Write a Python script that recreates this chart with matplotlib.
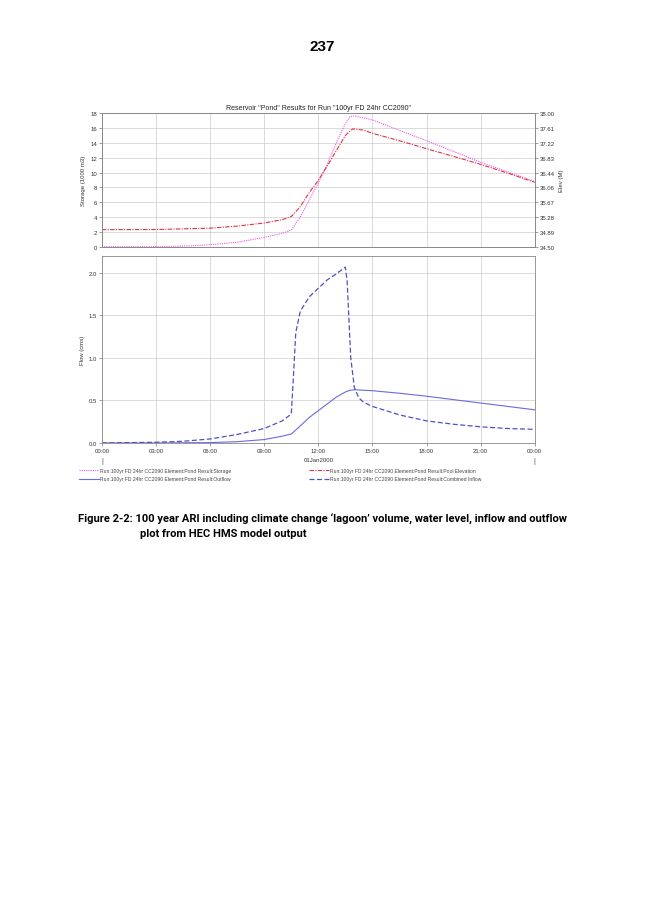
import numpy as np
import matplotlib
matplotlib.use("Agg")
import matplotlib.pyplot as plt
from matplotlib.lines import Line2D

# ---- data (hours from 01Jan2000 00:00) ----
stor_t = [0, 2, 3.5, 5, 6, 7.5, 9, 10, 10.5, 11, 11.5, 12, 12.5, 13, 13.5, 13.75, 14, 15, 16.5, 18, 19.5, 21, 22.5, 24]
stor_v = [0.0, 0.0, 0.02, 0.12, 0.27, 0.6, 1.25, 1.8, 2.25, 4.0, 6.3, 8.6, 11.2, 14.0, 16.6, 17.55, 17.65, 17.1, 15.7, 14.3, 12.85, 11.4, 10.1, 8.8]

elev_t = [0, 3, 6, 7.5, 9, 10, 10.5, 11, 11.5, 12, 12.5, 13, 13.5, 13.9, 14.5, 15, 16.5, 18, 19.5, 21, 22.5, 24]
elev_v = [34.947, 34.95, 34.986, 35.04, 35.122, 35.21, 35.29, 35.55, 35.92, 36.24, 36.62, 37.02, 37.42, 37.59, 37.56, 37.475, 37.28, 37.07, 36.87, 36.66, 36.43, 36.19]

out_t = [0, 3, 6, 7.5, 9, 10, 10.5, 11, 11.5, 12, 12.5, 13, 13.5, 13.75, 14, 15, 16.5, 18, 19.5, 21, 22.5, 24]
out_v = [0.0, 0.0, 0.004, 0.015, 0.04, 0.08, 0.105, 0.2, 0.3, 0.38, 0.46, 0.54, 0.6, 0.62, 0.626, 0.615, 0.585, 0.55, 0.51, 0.47, 0.43, 0.39]

inf_t = [0, 3, 4.5, 6, 7.5, 9, 10, 10.5, 10.6, 10.75, 11, 11.5, 12, 12.5, 13, 13.5, 13.6, 13.8, 14, 14.25, 14.5, 15, 16.5, 18, 19.5, 21, 22.5, 24]
inf_v = [0.0, 0.008, 0.02, 0.047, 0.1, 0.17, 0.26, 0.34, 0.7, 1.3, 1.55, 1.72, 1.82, 1.92, 1.99, 2.07, 1.9, 1.0, 0.65, 0.53, 0.48, 0.43, 0.33, 0.26, 0.22, 0.19, 0.17, 0.16]

xticks = [0, 3, 6, 9, 12, 15, 18, 21, 24]
xlabels = ['00:00', '03:00', '06:00', '09:00', '12:00', '15:00', '18:00', '21:00', '00:00']
stor_ticks = [0, 2, 4, 6, 8, 10, 12, 14, 16, 18]
elev_ticks = [34.50, 34.89, 35.28, 35.67, 36.06, 36.44, 36.83, 37.22, 37.61, 38.00]

run = 'Run:100yr FD 24hr CC2090 Element:Pond Result:'
c_stor = '#ee55ee'
c_elev = '#dd3344'
c_out = '#6a6ae0'
c_inf = '#5050c8'
tick_col = '#333333'
fs = 4.3

plt.rcParams['font.family'] = ['Liberation Sans', 'DejaVu Sans']

fig = plt.figure(figsize=(6.45, 9.12), dpi=100)

def style(ax):
    for s in ax.spines.values():
        s.set_color('#888888')
        s.set_linewidth(0.6)
    ax.grid(True, color='#cccccc', linewidth=0.5)
    ax.tick_params(labelsize=fs, colors='#777777', labelcolor=tick_col, length=2, width=0.5, pad=1.5)
    ax.set_xlim(0, 24)
    ax.set_xticks(xticks)

# ---- top panel: storage + elevation ----
ax1 = fig.add_axes([0.158, 0.7284, 0.671, 0.1463])
style(ax1)
ax1.set_ylim(0, 18)
ax1.set_yticks(stor_ticks)
ax1.set_xticklabels([])
ax1.tick_params(axis='x', length=0)
ax1.set_ylabel('Storage (1000 m3)', fontsize=fs, color=tick_col, labelpad=3)
ax1.set_title('Reservoir "Pond" Results for Run "100yr FD 24hr CC2090"', fontsize=5, color='#222222', pad=3)
ax1.plot(stor_t, stor_v, color=c_stor, linestyle=(0, (1, 1)), linewidth=0.8)

ax2 = ax1.twinx()
ax2.set_ylim(34.5, 38.0)
ax2.set_yticks(elev_ticks)
ax2.set_yticklabels(['%.2f' % v for v in elev_ticks])
for s in ax2.spines.values():
    s.set_color('#888888')
    s.set_linewidth(0.6)
ax2.tick_params(labelsize=fs, colors='#777777', labelcolor=tick_col, length=2, width=0.5, pad=1.5)
ax2.set_ylabel('Elev (M)', fontsize=fs, color=tick_col, labelpad=3)
ax2.plot(elev_t, elev_v, color=c_elev, linestyle=(0, (4, 1.2, 1, 1.2)), linewidth=0.8)

# ---- bottom panel: flows ----
ax3 = fig.add_axes([0.158, 0.5132, 0.671, 0.205])
style(ax3)
ax3.set_ylim(0, 2.2)
ax3.set_yticks([0.0, 0.5, 1.0, 1.5, 2.0])
ax3.set_yticklabels(['0.0', '0.5', '1.0', '1.5', '2.0'])
ax3.set_xticklabels(xlabels)
ax3.set_ylabel('Flow (cms)', fontsize=fs, color=tick_col, labelpad=3)
ax3.plot(out_t, out_v, color=c_out, linestyle='-', linewidth=0.8)
ax3.plot(inf_t, inf_v, color=c_inf, linestyle=(0, (4, 2)), linewidth=0.9)
ax3.text(12, -0.17, '01Jan2000', fontsize=fs, color=tick_col, ha='center', va='top',
         transform=ax3.transData, clip_on=False)
for xx in (0, 24):
    ax3.text(xx, -0.17, '|', fontsize=5, color='#555555', ha='center', va='top',
             transform=ax3.transData, clip_on=False)

handles = [
    Line2D([], [], color=c_stor, linestyle=(0, (1, 1)), linewidth=0.8),
    Line2D([], [], color=c_out, linestyle='-', linewidth=0.8),
    Line2D([], [], color=c_elev, linestyle=(0, (4, 1.2, 1, 1.2)), linewidth=0.8),
    Line2D([], [], color=c_inf, linestyle=(0, (4, 2)), linewidth=0.9),
]
labels = [run + 'Storage', run + 'Outflow', run + 'Pool Elevation', run + 'Combined Inflow']
leg = fig.legend(handles, labels, loc='upper left', bbox_to_anchor=(0.119, 0.489), ncol=2,
                 frameon=False, fontsize=3.6, handlelength=4.0, handletextpad=0.2,
                 columnspacing=15.5, labelspacing=0.75, borderpad=0)
for t in leg.get_texts():
    t.set_color('#444444')

# ---- page text ----
fig.text(0.4995, 0.949, '237', fontsize=11, fontweight='bold', ha='center', va='center')
fig.text(0.121, 0.431, 'Figure 2-2: 100 year ARI including climate change \u2018lagoon\u2019 volume, water level, inflow and outflow',
         fontsize=8.0, fontweight='bold', ha='left', va='center', family=['Roboto', 'DejaVu Sans'])
fig.text(0.217, 0.414, 'plot from HEC HMS model output',
         fontsize=8.0, fontweight='bold', ha='left', va='center', family=['Roboto', 'DejaVu Sans'])

fig.savefig('out.png', dpi=100)
